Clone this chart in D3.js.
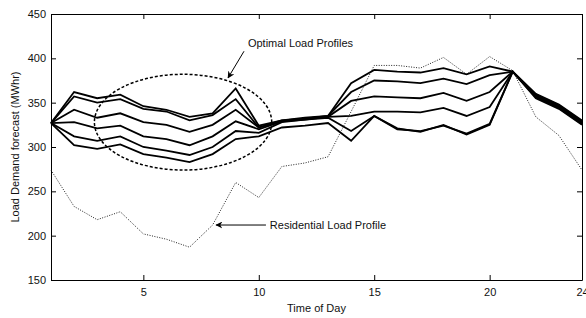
<!DOCTYPE html>
<html>
<head>
<meta charset="utf-8">
<script src="https://cdn.jsdelivr.net/npm/d3@7"></script>
<style>
  body { margin: 0; background: #fff; }
  text { font-family: "Liberation Sans", Arial, sans-serif; fill: #111; }
</style>
</head>
<body>
<div id="chart"></div>
<script>
// Load demand forecast: residential profile vs optimal load profiles
const hours = d3.range(1, 25);

const residential = [274, 233, 218, 227, 202, 196, 187, 212, 260, 243, 278, 282,
                     289, 340, 392, 392, 389, 401, 382, 402, 386, 334, 313, 274];

// optimal profiles, top to bottom
const optimal1 = [327, 362, 355, 359, 346, 342, 334, 338, 366, 324, 330, 333,
                  335, 372, 387, 385, 384, 389, 382, 391, 385, 360, 348, 330];
const optimal2 = [327, 357, 350, 354, 343, 340, 330, 336, 354, 322, 330, 332,
                  335, 362, 375, 374, 372, 377, 371, 381, 385, 359, 347, 329];
const optimal3 = [327, 342, 333, 338, 328, 325, 317, 325, 342, 322, 329, 332,
                  334, 352, 357, 356, 355, 361, 352, 362, 385, 358, 346, 328];
const optimal4 = [327, 328, 321, 324, 312, 309, 302, 312, 329, 320, 329, 331,
                  334, 335, 340, 340, 339, 344, 335, 345, 385, 357, 345, 327];
const optimal5 = [327, 312, 307, 312, 300, 296, 291, 300, 318, 316, 328, 331,
                  333, 318, 335, 321, 317, 325, 314, 325, 385, 356, 344, 326];
const optimal6 = [327, 302, 298, 303, 292, 288, 283, 292, 309, 312, 322, 324,
                  327, 307, 335, 320, 318, 324, 315, 326, 385, 355, 343, 325];
const optimalSeries = [optimal1, optimal2, optimal3, optimal4, optimal5, optimal6];

const xTicks = [5, 10, 15, 20, 24];
const yTicks = [150, 200, 250, 300, 350, 400, 450];

const width = 586;
const height = 318;
const margin = { top: 14, right: 4, bottom: 38, left: 51 };

const svg = d3.select("#chart")
  .append("svg")
  .attr("width", width)
  .attr("height", height);

const x = d3.scaleLinear().domain([1, 24]).range([margin.left, width - margin.right]);
const y = d3.scaleLinear().domain([150, 450]).range([height - margin.bottom, margin.top]);

// axes (inward ticks, box on all four sides)
const styleAxis = g => {
  g.select(".domain").attr("stroke", "#000").attr("stroke-width", 1);
  g.selectAll(".tick line").attr("stroke", "#000");
  g.selectAll(".tick text").style("font-size", "11px").attr("fill", "#111");
};

svg.append("g")
  .attr("transform", `translate(0,${y(150)})`)
  .call(d3.axisBottom(x).tickValues(xTicks).tickSizeInner(-5).tickSizeOuter(0).tickPadding(8))
  .call(styleAxis);

svg.append("g")
  .attr("transform", `translate(0,${y(450)})`)
  .call(d3.axisTop(x).tickValues(xTicks).tickSizeInner(-5).tickSizeOuter(0).tickFormat(""))
  .call(styleAxis);

svg.append("g")
  .attr("transform", `translate(${x(1)},0)`)
  .call(d3.axisLeft(y).tickValues(yTicks).tickSizeInner(-5).tickSizeOuter(0).tickPadding(5))
  .call(styleAxis);

svg.append("g")
  .attr("transform", `translate(${x(24)},0)`)
  .call(d3.axisRight(y).tickValues(yTicks).tickSizeInner(-5).tickSizeOuter(0).tickFormat(""))
  .call(styleAxis);

// lines
const line = d3.line()
  .x((d, i) => x(hours[i]))
  .y(d => y(d));

svg.append("path")
  .datum(residential)
  .attr("d", line)
  .attr("fill", "none")
  .attr("stroke", "#222")
  .attr("stroke-width", 1)
  .attr("stroke-dasharray", "1,1.5");

svg.append("g").selectAll("path")
  .data(optimalSeries)
  .enter().append("path")
  .attr("d", line)
  .attr("fill", "none")
  .attr("stroke", "#000")
  .attr("stroke-width", 1.8)
  .attr("stroke-linejoin", "miter");

// dashed ellipse around the optimal profiles (data units)
const ellipse = { cx: 6.72, cy: 328, rx: 3.84, ry: 54 };
svg.append("ellipse")
  .attr("cx", x(ellipse.cx))
  .attr("cy", y(ellipse.cy))
  .attr("rx", x(ellipse.cx + ellipse.rx) - x(ellipse.cx))
  .attr("ry", y(ellipse.cy - ellipse.ry) - y(ellipse.cy))
  .attr("fill", "none")
  .attr("stroke", "#000")
  .attr("stroke-width", 1.5)
  .attr("stroke-dasharray", "3,2");

// annotations
svg.append("defs").append("marker")
  .attr("id", "arrow")
  .attr("viewBox", "0 0 10 10")
  .attr("refX", 9)
  .attr("refY", 5)
  .attr("markerWidth", 7)
  .attr("markerHeight", 7)
  .attr("markerUnits", "userSpaceOnUse")
  .attr("orient", "auto")
  .append("path")
  .attr("d", "M0,0L10,5L0,10L3,5Z")
  .attr("fill", "#000");

const annotations = [
  { text: "Optimal Load Profiles", tx: 9.53, ty: 413, x1: 9.36, y1: 408, x2: 8.67, y2: 378 },
  { text: "Residential Load Profile", tx: 10.48, ty: 208, x1: 10.31, y1: 212, x2: 8.15, y2: 212 }
];

annotations.forEach(a => {
  svg.append("line")
    .attr("x1", x(a.x1)).attr("y1", y(a.y1))
    .attr("x2", x(a.x2)).attr("y2", y(a.y2))
    .attr("stroke", "#000")
    .attr("stroke-width", 1)
    .attr("marker-end", "url(#arrow)");
  svg.append("text")
    .attr("x", x(a.tx))
    .attr("y", y(a.ty))
    .style("font-size", "11px")
    .text(a.text);
});

// axis titles
svg.append("text")
  .attr("x", (x(1) + x(24)) / 2)
  .attr("y", 312)
  .attr("text-anchor", "middle")
  .style("font-size", "11px")
  .text("Time of Day");

svg.append("text")
  .attr("transform", `translate(19,${(y(150) + y(450)) / 2}) rotate(-90)`)
  .attr("text-anchor", "middle")
  .style("font-size", "11px")
  .text("Load Demand forecast (MWhr)");
</script>
</body>
</html>
